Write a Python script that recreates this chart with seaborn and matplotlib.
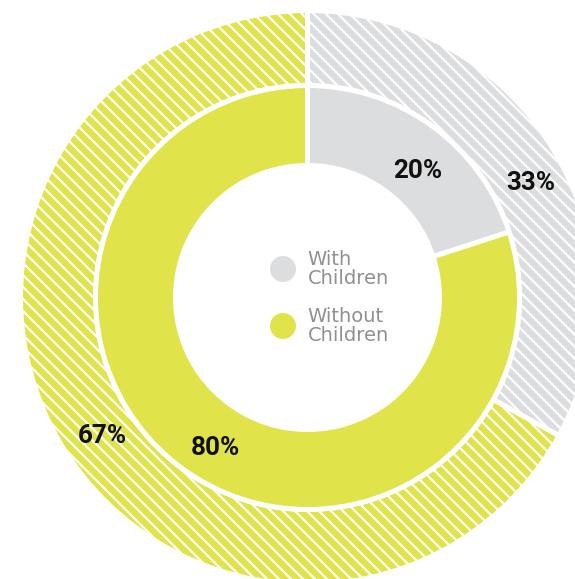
import matplotlib.pyplot as plt
from matplotlib.transforms import ScaledTranslation
import seaborn as sns

# Share of households, outer ring (hatched) and inner ring (solid)
groups = ['With Children', 'Without Children']
outer_share = [33, 67]
inner_share = [20, 80]
legend_labels = ['With\nChildren', 'Without\nChildren']

colors = ['#dcdddf', '#e1e34b']

sns.set_theme(style='white')
plt.rcParams['font.family'] = ['Roboto', 'DejaVu Sans']
plt.rcParams['hatch.linewidth'] = 2.2

W, H, DPI = 575, 579, 72
fig = plt.figure(figsize=(W / DPI, H / DPI), dpi=DPI)
ax = fig.add_axes([0, 0, 1, 1])

# scale: 287 px per data unit, centre of rings at (307.5, 297.5) px
px = 287.0
cx, cy = 307.5, 297.5

outer_r, outer_w = 1.0, 75 / px
inner_r, inner_w = 212 / px, 80 / px

pct = lambda p: f'{p:.0f}%'
label_font = dict(fontsize=26, fontweight='bold', color='#111111', family='Roboto')

_, _, outer_txt = ax.pie(outer_share, radius=outer_r, colors=colors, startangle=90,
                         counterclock=False, hatch=['\\\\', '\\\\'], autopct=pct,
                         pctdistance=0.868, textprops=label_font,
                         wedgeprops=dict(width=outer_w, edgecolor='white', linewidth=5))
_, _, inner_txt = ax.pie(inner_share, radius=inner_r, colors=colors, startangle=90,
                         counterclock=False, autopct=pct, pctdistance=0.81,
                         textprops=label_font,
                         wedgeprops=dict(width=inner_w, edgecolor='white', linewidth=5))

# percentage labels sit a little right of and below the wedge middles
shift = ScaledTranslation(9 / DPI, -12 / DPI, fig.dpi_scale_trans)
for t in list(outer_txt) + list(inner_txt):
    t.set_transform(ax.transData + shift)

# centre legend
for i, (lab, col) in enumerate(zip(legend_labels, colors)):
    y = 28.5 / px * (1 if i == 0 else -1)
    ax.scatter([-24.5 / px], [y], s=676, color=col, edgecolor='none', zorder=5)
    ax.text(0, y, lab, ha='left', va='center', fontsize=19.5, color='#909090',
            family='DejaVu Sans', linespacing=1.05, zorder=5)

ax.set_xlim(-cx / px, (W - cx) / px)
ax.set_ylim(-(H - cy) / px, cy / px)
ax.set_aspect('equal')
ax.axis('off')

fig.savefig('out.png', dpi=DPI, facecolor='white')
